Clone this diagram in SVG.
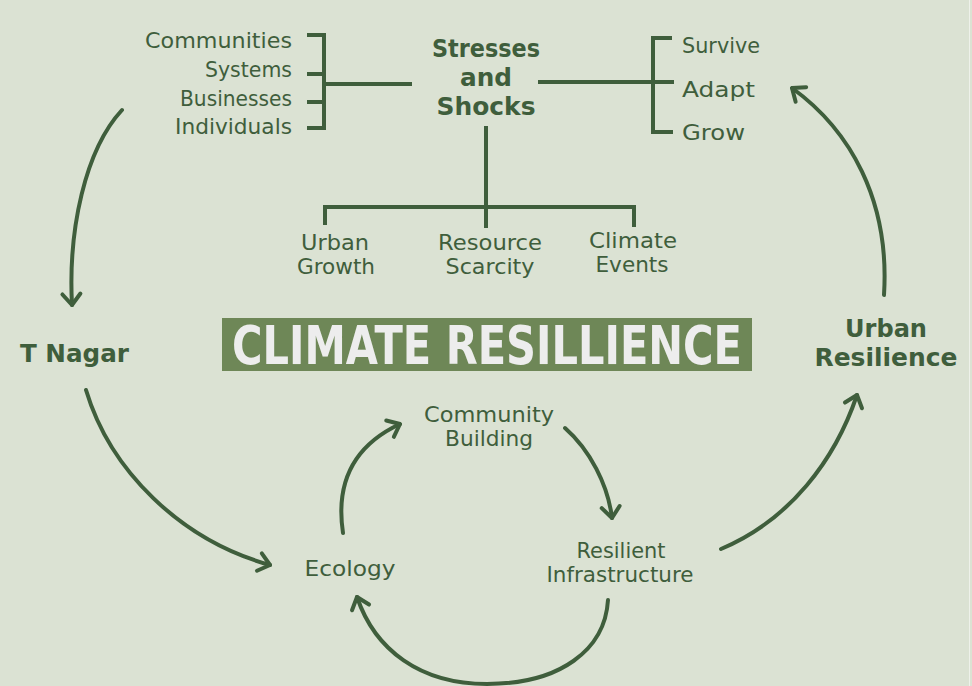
<svg xmlns="http://www.w3.org/2000/svg" width="972" height="686" viewBox="0 0 972 686">
<defs>
<style>
.t{font-family:"DejaVu Sans","Liberation Sans",sans-serif;font-size:21px;fill:#3f5e3c}
.b{font-family:"DejaVu Sans","Liberation Sans",sans-serif;font-size:25px;font-weight:bold;fill:#3f5e3c}
.ln{fill:none;stroke:#3f5e3c;stroke-width:4;stroke-linecap:square}
.ar{fill:none;stroke:#3f5e3c;stroke-width:4;stroke-linecap:round}
</style>
<marker id="ah" viewBox="-14 -12 16 24" refX="0" refY="0" markerWidth="16" markerHeight="24" markerUnits="userSpaceOnUse" orient="auto">
<path d="M-11,-9 L0,0 L-11,9" fill="none" stroke="#3f5e3c" stroke-width="4" stroke-linecap="round" stroke-linejoin="round"/>
</marker>
</defs>
<rect width="972" height="686" fill="#dbe2d3"/>
<line x1="969.5" y1="0" x2="969.5" y2="686" stroke="#eef1ea" stroke-width="1"/>

<g id="connectors">
<path class="ln" d="M309,35 H324 V128 H309 M309,74 H324 M309,102 H324 M324,84 H410"/>
<path class="ln" d="M540,82 H672 M670,38 H653 V132 H671"/>
<path class="ln" d="M486,128 V226 M325,223 V207 H634 V225"/>
<path class="ar" marker-end="url(#ah)" d="M122,110 C85,150 68,230 72,305"/>
<path class="ar" marker-end="url(#ah)" d="M86,390 C110,470 180,540 270,565"/>
<path class="ar" marker-end="url(#ah)" d="M343,533 C335,480 355,445 400,424"/>
<path class="ar" marker-end="url(#ah)" d="M565,428 C590,450 608,485 612,518"/>
<path class="ar" marker-end="url(#ah)" d="M608,600 C605,650 560,684 487,684 C420,684 375,650 357,597"/>
<path class="ar" marker-end="url(#ah)" d="M721,549 C790,520 835,460 857,395"/>
<path class="ar" marker-end="url(#ah)" d="M884,295 C890,200 850,130 792,88"/>
</g>

<g id="targets">
<text class="t" x="292" y="48" text-anchor="end" textLength="147" lengthAdjust="spacingAndGlyphs">Communities</text>
<text class="t" x="292" y="77" text-anchor="end" textLength="87" lengthAdjust="spacingAndGlyphs">Systems</text>
<text class="t" x="292" y="106" text-anchor="end" textLength="112" lengthAdjust="spacingAndGlyphs">Businesses</text>
<text class="t" x="292" y="134" text-anchor="end" textLength="117" lengthAdjust="spacingAndGlyphs">Individuals</text>
</g>

<g id="stresses">
<text class="b" x="486" y="57" text-anchor="middle" textLength="108" lengthAdjust="spacingAndGlyphs">Stresses</text>
<text class="b" x="486" y="86" text-anchor="middle" textLength="52" lengthAdjust="spacingAndGlyphs">and</text>
<text class="b" x="486" y="115" text-anchor="middle" textLength="99" lengthAdjust="spacingAndGlyphs">Shocks</text>
</g>

<g id="outcomes">
<text class="t" x="682" y="53" textLength="78" lengthAdjust="spacingAndGlyphs">Survive</text>
<text class="t" x="682" y="97" textLength="73" lengthAdjust="spacingAndGlyphs">Adapt</text>
<text class="t" x="682" y="140" textLength="63" lengthAdjust="spacingAndGlyphs">Grow</text>
</g>

<g id="urban-growth">
<text class="t" x="335" y="250" text-anchor="middle" textLength="68" lengthAdjust="spacingAndGlyphs">Urban</text>
<text class="t" x="336" y="274" text-anchor="middle" textLength="78" lengthAdjust="spacingAndGlyphs">Growth</text>
</g>
<g id="resource-scarcity">
<text class="t" x="490" y="250" text-anchor="middle" textLength="104" lengthAdjust="spacingAndGlyphs">Resource</text>
<text class="t" x="490" y="274" text-anchor="middle" textLength="89" lengthAdjust="spacingAndGlyphs">Scarcity</text>
</g>
<g id="climate-events">
<text class="t" x="633" y="248" text-anchor="middle" textLength="88" lengthAdjust="spacingAndGlyphs">Climate</text>
<text class="t" x="632" y="272" text-anchor="middle" textLength="73" lengthAdjust="spacingAndGlyphs">Events</text>
</g>

<g id="climate-resilience">
<rect x="222" y="318" width="530" height="53" fill="#6e8757"/>
<text x="487" y="364" text-anchor="middle" font-family="'Liberation Sans Narrow','DejaVu Sans Condensed','Liberation Sans',sans-serif" font-size="54" font-weight="bold" fill="#ededed" textLength="510" lengthAdjust="spacingAndGlyphs">CLIMATE RESILLIENCE</text>
</g>

<g id="t-nagar">
<text class="b" x="20" y="362" textLength="109" lengthAdjust="spacingAndGlyphs">T Nagar</text>
</g>

<g id="urban-resilience">
<text class="b" x="886" y="337" text-anchor="middle" textLength="82" lengthAdjust="spacingAndGlyphs">Urban</text>
<text class="b" x="886" y="366" text-anchor="middle" textLength="143" lengthAdjust="spacingAndGlyphs">Resilience</text>
</g>

<g id="community-building">
<text class="t" x="489" y="422" text-anchor="middle" textLength="130" lengthAdjust="spacingAndGlyphs">Community</text>
<text class="t" x="489" y="446" text-anchor="middle" textLength="88" lengthAdjust="spacingAndGlyphs">Building</text>
</g>

<g id="ecology">
<text class="t" x="350" y="576" text-anchor="middle" textLength="91" lengthAdjust="spacingAndGlyphs">Ecology</text>
</g>

<g id="resilient-infrastructure">
<text class="t" x="621" y="558" text-anchor="middle" textLength="89" lengthAdjust="spacingAndGlyphs">Resilient</text>
<text class="t" x="620" y="582" text-anchor="middle" textLength="147" lengthAdjust="spacingAndGlyphs">Infrastructure</text>
</g>
</svg>
